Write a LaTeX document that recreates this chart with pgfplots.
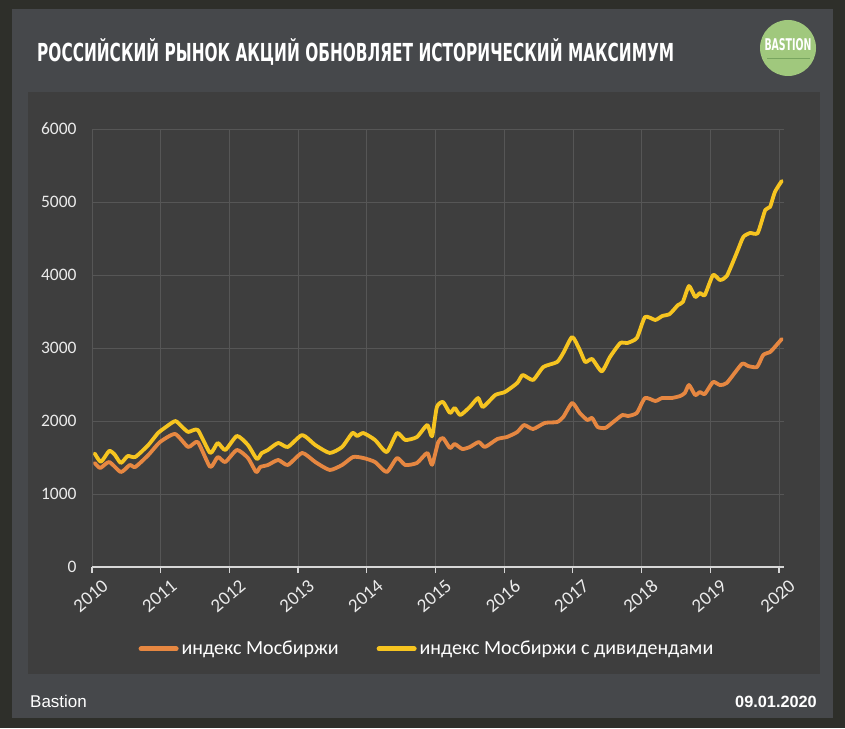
\documentclass[border=0pt]{standalone}
\usepackage{pgfplots}
\pgfplotsset{compat=1.18}
\usepackage{fontspec}
\setmainfont{Carlito}
\newfontfamily\titlefont{DejaVu Sans}
\newfontfamily\arialfont{Liberation Sans}
\definecolor{outerbg}{RGB}{46,47,42}
\definecolor{panelbg}{RGB}{70,72,75}
\definecolor{innerbg}{RGB}{62,62,62}
\definecolor{gridc}{RGB}{86,86,86}
\definecolor{axc}{RGB}{215,215,215}
\definecolor{orangeL}{RGB}{230,135,65}
\definecolor{yellowL}{RGB}{246,196,32}
\definecolor{logog}{RGB}{160,200,125}
\definecolor{logol}{RGB}{120,165,95}
\begin{document}
\begin{tikzpicture}[x=1pt,y=1pt]
\fill[outerbg] (0,0) rectangle (845,728);
\useasboundingbox (0,0) rectangle (845,728);
\fill[panelbg] (12,10) rectangle (833,719);
\fill[innerbg] (28,54) rectangle (820,636);
% title
\node[anchor=base west, inner sep=0pt, text=white] at (37,666)
  {\resizebox{637pt}{23pt}{\titlefont\bfseries РОССИЙСКИЙ РЫНОК АКЦИЙ ОБНОВЛЯЕТ ИСТОРИЧЕСКИЙ МАКСИМУМ}};
% logo
\fill[logog] (788,680) circle (28);
\node[inner sep=0pt, text=white] at (788,683)
  {\resizebox{47pt}{12pt}{\titlefont\bfseries BASTION}};
\draw[logol, line width=1pt] (767,669) -- (810,669);
% footer
\node[anchor=base west, inner sep=0pt, text=white] at (30,21)
  {\arialfont\fontsize{17}{20}\selectfont Bastion};
\node[anchor=base east, inner sep=0pt, text=white] at (817,21)
  {\arialfont\bfseries\fontsize{16.3}{20}\selectfont 09.01.2020};
\begin{axis}[
  at={(92pt,161pt)}, anchor=south west,
  scale only axis, width=692pt, height=438pt,
  xmin=2010, xmax=2020.073, ymin=0, ymax=6000,
  axis lines=left, axis line style={-},
  y axis line style={draw=none},
  x axis line style={draw=axc, line width=1.4pt},
  xtick={2010,2011,...,2020},
  ytick={0,1000,...,6000},
  tick align=outside,
  major tick length=6pt,
  ytick style={draw=none},
  xtick style={draw=axc, line width=1.2pt},
  grid=major,
  major grid style={draw=gridc, line width=0.6pt},
  /pgf/number format/assume math mode=true,
  /pgf/number format/set thousands separator={},
  ticklabel style={text={rgb,255:red,235;green,235;blue,235}},
  yticklabel style={font=\fontsize{17.5}{20}\selectfont, anchor=east, xshift=-6pt},
  xticklabel style={font=\fontsize{19}{22}\selectfont, rotate=40, anchor=north east, xshift=7pt, yshift=-7pt},
  clip=false,
  legend columns=2,
  legend style={at={(0.484,-0.187)}, anchor=center, draw=none, fill=none,
    text=white, font=\fontsize{20}{23}\selectfont, inner sep=0pt,
    /tikz/every odd column/.append style={column sep=1pt},
    /tikz/every even column/.append style={column sep=36pt}},
  legend image code/.code={\draw[#1, line width=5pt] (0pt,0pt) -- (35pt,0pt);},
]
\addplot[orangeL, line width=3.8pt, smooth, tension=0.35, line join=round, line cap=round] coordinates {
(2010.04,1425) (2010.12,1356) (2010.25,1438) (2010.42,1301) (2010.55,1397) (2010.63,1370)
(2010.82,1534) (2010.99,1712) (2011.21,1822) (2011.40,1644) (2011.54,1712) (2011.72,1370)
(2011.83,1507) (2011.94,1438) (2012.11,1603) (2012.27,1493) (2012.39,1301) (2012.45,1370)
(2012.56,1397) (2012.71,1466) (2012.85,1397) (2013.06,1562) (2013.25,1438) (2013.46,1329)
(2013.64,1397) (2013.80,1507) (2013.95,1493) (2014.12,1438) (2014.29,1301) (2014.44,1493)
(2014.56,1397) (2014.73,1425) (2014.88,1562) (2014.95,1400) (2015.04,1712) (2015.11,1767)
(2015.21,1630) (2015.28,1685) (2015.39,1616) (2015.50,1644) (2015.63,1712) (2015.72,1644)
(2015.90,1753) (2016.04,1781) (2016.19,1849) (2016.29,1945) (2016.42,1890) (2016.59,1973)
(2016.77,1986) (2016.86,2055) (2016.99,2247) (2017.10,2110) (2017.21,2014) (2017.28,2041)
(2017.36,1918) (2017.47,1904) (2017.57,1973) (2017.72,2082) (2017.80,2068) (2017.93,2110)
(2018.05,2315) (2018.20,2274) (2018.30,2315) (2018.44,2315) (2018.56,2342) (2018.63,2384)
(2018.69,2493) (2018.78,2356) (2018.85,2397) (2018.92,2370) (2019.04,2534) (2019.14,2493)
(2019.24,2521) (2019.46,2781) (2019.55,2753) (2019.68,2740) (2019.77,2904) (2019.87,2945)
(2019.94,3014) (2020.04,3123)
};
\addlegendentry{индекс Мосбиржи}
\addplot[yellowL, line width=3.8pt, smooth, tension=0.35, line join=round, line cap=round] coordinates {
(2010.04,1555) (2010.13,1440) (2010.25,1590) (2010.33,1540) (2010.42,1425) (2010.52,1520)
(2010.63,1507) (2010.82,1671) (2010.96,1835) (2011.05,1900) (2011.21,2000) (2011.30,1930)
(2011.40,1850) (2011.54,1877) (2011.72,1562) (2011.83,1699) (2011.94,1603) (2012.11,1795)
(2012.27,1671) (2012.40,1480) (2012.47,1560) (2012.56,1603) (2012.71,1699) (2012.85,1644)
(2013.06,1808) (2013.25,1671) (2013.46,1562) (2013.64,1644) (2013.79,1835) (2013.86,1795)
(2013.95,1835) (2014.12,1740) (2014.29,1575) (2014.44,1835) (2014.56,1740) (2014.73,1781)
(2014.88,1945) (2014.95,1790) (2015.02,2192) (2015.11,2260) (2015.21,2110) (2015.28,2178)
(2015.36,2082) (2015.50,2192) (2015.62,2315) (2015.69,2192) (2015.87,2356) (2016.01,2397)
(2016.19,2521) (2016.27,2630) (2016.42,2562) (2016.57,2740) (2016.77,2808) (2016.86,2932)
(2016.99,3151) (2017.10,2973) (2017.18,2808) (2017.28,2849) (2017.42,2680) (2017.54,2877)
(2017.69,3068) (2017.79,3068) (2017.93,3137) (2018.05,3425) (2018.20,3384) (2018.30,3438)
(2018.41,3466) (2018.53,3589) (2018.60,3630) (2018.69,3849) (2018.78,3699) (2018.85,3753)
(2018.92,3726) (2019.04,4000) (2019.14,3932) (2019.24,3986) (2019.39,4315) (2019.48,4521)
(2019.58,4575) (2019.69,4575) (2019.80,4890) (2019.87,4932) (2019.94,5137) (2020.04,5288)
};
\addlegendentry{индекс Мосбиржи с дивидендами}
\end{axis}
\end{tikzpicture}
\end{document}
